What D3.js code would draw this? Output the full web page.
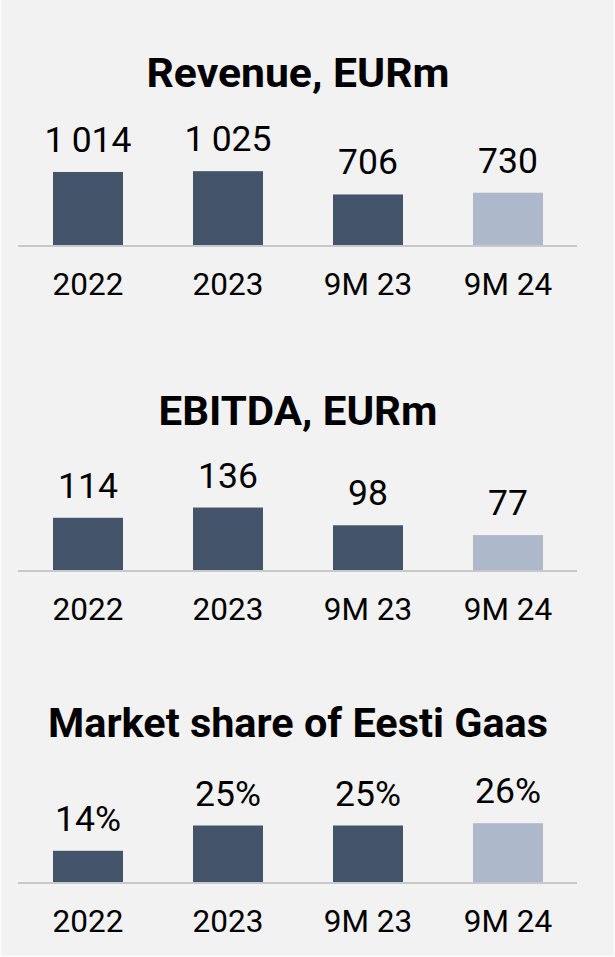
<!DOCTYPE html>
<html>
<head>
<meta charset="utf-8">
<script src="https://cdn.jsdelivr.net/npm/d3@7"></script>
<style>
  html, body { margin: 0; padding: 0; background: #f2f2f2; }
  svg { display: block; }
  text { font-family: Roboto, "Noto Sans", sans-serif; fill: #000; }
</style>
</head>
<body>
<svg id="chart" width="615" height="957"></svg>
<script>
// ---- data ----
const categories = ["2022", "2023", "9M 23", "9M 24"];
const revenueValues = [1014, 1025, 706, 730];
const ebitdaValues = [114, 136, 98, 77];
const marketShareValues = [14, 25, 25, 26];
const revenueLabels = ["1\u2009014", "1\u2009025", "706", "730"];
const ebitdaLabels = ["114", "136", "98", "77"];
const marketShareLabels = ["14%", "25%", "25%", "26%"];
const titles = ["Revenue, EURm", "EBITDA, EURm", "Market share of Eesti Gaas"];

// ---- layout (positions/styles only) ----
const W = 615, H = 957;
const panels = [
  { title: titles[0], values: revenueValues, labels: revenueLabels, yMax: 1200, plotH: 87.6, titleY: 87, axisY: 246, titleW: 303 },
  { title: titles[1], values: ebitdaValues, labels: ebitdaLabels, yMax: 150, plotH: 70, titleY: 425, axisY: 571, titleW: 279 },
  { title: titles[2], values: marketShareValues, labels: marketShareLabels, yMax: 30, plotH: 69, titleY: 737, axisY: 883, titleW: 500 }
];
const dark = "#44546a", light = "#adb9ca";

const svg = d3.select("#chart");
svg.append("rect").attr("x", 0.75).attr("y", -2).attr("width", W - 1.5).attr("height", H + 1.25)
  .attr("fill", "#f2f2f2").attr("stroke", "#fafafa").attr("stroke-width", 1.5);

const x = d3.scaleBand().domain(categories).range([18, 578]).paddingInner(0.5).paddingOuter(0.25);

panels.forEach(p => {
  const g = svg.append("g");
  const y = d3.scaleLinear().domain([0, p.yMax]).range([p.axisY, p.axisY - p.plotH]);

  // title
  g.append("text")
    .attr("x", 298).attr("y", p.titleY)
    .attr("text-anchor", "middle")
    .attr("font-size", 40).attr("font-weight", 700)
    .attr("textLength", p.titleW).attr("lengthAdjust", "spacingAndGlyphs")
    .text(p.title);

  // bars
  g.selectAll("rect.bar").data(categories).join("rect")
    .attr("class", "bar")
    .attr("x", d => x(d))
    .attr("width", x.bandwidth())
    .attr("y", (d, i) => y(p.values[i]))
    .attr("height", (d, i) => p.axisY - y(p.values[i]))
    .attr("fill", (d, i) => i === 3 ? light : dark);

  // axis
  const axis = d3.axisBottom(x).tickSize(0);
  const ag = g.append("g").attr("transform", `translate(0,${p.axisY})`).call(axis);
  ag.select(".domain").attr("stroke", "#c8c8c8").attr("stroke-width", 2).attr("d", "M18,0H577");
  ag.selectAll(".tick text")
    .attr("font-size", 31.5).attr("fill", "#000")
    .attr("dy", null).attr("y", 49)
    .style("font-family", "Roboto, 'Noto Sans', sans-serif");

  // value labels
  g.selectAll("text.val").data(categories).join("text")
    .attr("class", "val")
    .attr("x", d => x(d) + x.bandwidth() / 2)
    .attr("y", (d, i) => y(p.values[i]) - 20)
    .attr("text-anchor", "middle")
    .attr("font-size", 35.5)
    .text((d, i) => p.labels[i]);
});
</script>
</body>
</html>
